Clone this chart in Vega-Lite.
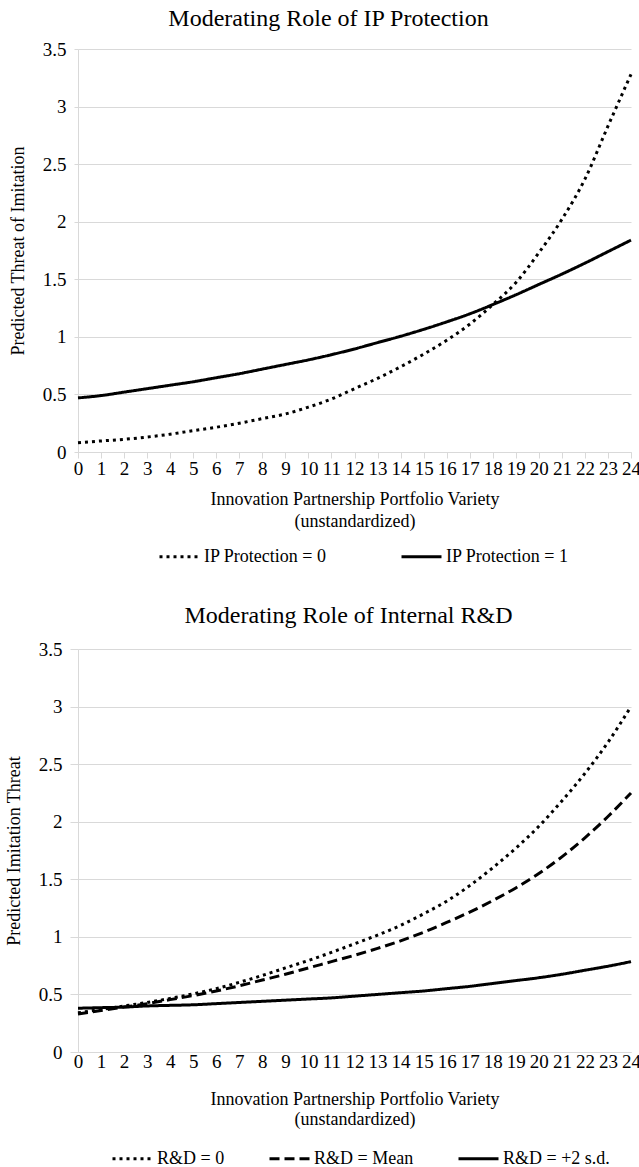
{
  "$schema": "https://vega.github.io/schema/vega-lite/v6.json",
  "padding": {"left": 5, "top": 7, "right": 8, "bottom": 0},
  "background": "white",
  "resolve": {"scale": {"strokeDash": "independent"}, "legend": {"strokeDash": "independent"}},
  "config": {
    "font": "Liberation Serif, Times New Roman, serif",
    "view": {"stroke": null},
    "axis": {
      "labelFont": "Liberation Serif, Times New Roman, serif",
      "titleFont": "Liberation Serif, Times New Roman, serif",
      "labelColor": "#000000",
      "titleColor": "#000000",
      "titleFontWeight": "normal",
      "gridColor": "#d9d9d9",
      "domainColor": "#d9d9d9",
      "tickColor": "#d9d9d9",
      "labelFontSize": 19,
      "titleFontSize": 18
    },
    "legend": {
      "labelFont": "Liberation Serif, Times New Roman, serif",
      "labelFontSize": 18,
      "labelColor": "#000000",
      "symbolType": "stroke",
      "symbolSize": 1600,
      "symbolStrokeWidth": 3,
      "symbolStrokeColor": "#000000",
      "labelOffset": 3,
      "padding": 0,
      "direction": "horizontal",
      "orient": "none"
    },
    "title": {"font": "Liberation Serif, Times New Roman, serif", "fontSize": 24, "fontWeight": "normal", "color": "#000000"},
    "concat": {"spacing": 38}
  },
  "datasets": {
    "ip": [
      {"series": "IP Protection = 0", "variety": 0, "threat": 0.08},
      {"series": "IP Protection = 0", "variety": 1, "threat": 0.096},
      {"series": "IP Protection = 0", "variety": 2, "threat": 0.11},
      {"series": "IP Protection = 0", "variety": 3, "threat": 0.13},
      {"series": "IP Protection = 0", "variety": 4, "threat": 0.155},
      {"series": "IP Protection = 0", "variety": 5, "threat": 0.185},
      {"series": "IP Protection = 0", "variety": 6, "threat": 0.215},
      {"series": "IP Protection = 0", "variety": 7, "threat": 0.25},
      {"series": "IP Protection = 0", "variety": 8, "threat": 0.29},
      {"series": "IP Protection = 0", "variety": 9, "threat": 0.33},
      {"series": "IP Protection = 0", "variety": 10, "threat": 0.39},
      {"series": "IP Protection = 0", "variety": 11, "threat": 0.46},
      {"series": "IP Protection = 0", "variety": 12, "threat": 0.55},
      {"series": "IP Protection = 0", "variety": 13, "threat": 0.64},
      {"series": "IP Protection = 0", "variety": 14, "threat": 0.74},
      {"series": "IP Protection = 0", "variety": 15, "threat": 0.85},
      {"series": "IP Protection = 0", "variety": 16, "threat": 0.97},
      {"series": "IP Protection = 0", "variety": 17, "threat": 1.11},
      {"series": "IP Protection = 0", "variety": 18, "threat": 1.28},
      {"series": "IP Protection = 0", "variety": 19, "threat": 1.47},
      {"series": "IP Protection = 0", "variety": 20, "threat": 1.73},
      {"series": "IP Protection = 0", "variety": 21, "threat": 2.02},
      {"series": "IP Protection = 0", "variety": 22, "threat": 2.37},
      {"series": "IP Protection = 0", "variety": 23, "threat": 2.83},
      {"series": "IP Protection = 0", "variety": 24, "threat": 3.28},
      {"series": "IP Protection = 1", "variety": 0, "threat": 0.47},
      {"series": "IP Protection = 1", "variety": 1, "threat": 0.49},
      {"series": "IP Protection = 1", "variety": 2, "threat": 0.52},
      {"series": "IP Protection = 1", "variety": 3, "threat": 0.55},
      {"series": "IP Protection = 1", "variety": 4, "threat": 0.58},
      {"series": "IP Protection = 1", "variety": 5, "threat": 0.61},
      {"series": "IP Protection = 1", "variety": 6, "threat": 0.645},
      {"series": "IP Protection = 1", "variety": 7, "threat": 0.68},
      {"series": "IP Protection = 1", "variety": 8, "threat": 0.72},
      {"series": "IP Protection = 1", "variety": 9, "threat": 0.76},
      {"series": "IP Protection = 1", "variety": 10, "threat": 0.8},
      {"series": "IP Protection = 1", "variety": 11, "threat": 0.845},
      {"series": "IP Protection = 1", "variety": 12, "threat": 0.895},
      {"series": "IP Protection = 1", "variety": 13, "threat": 0.95},
      {"series": "IP Protection = 1", "variety": 14, "threat": 1.005},
      {"series": "IP Protection = 1", "variety": 15, "threat": 1.065},
      {"series": "IP Protection = 1", "variety": 16, "threat": 1.13},
      {"series": "IP Protection = 1", "variety": 17, "threat": 1.2},
      {"series": "IP Protection = 1", "variety": 18, "threat": 1.28},
      {"series": "IP Protection = 1", "variety": 19, "threat": 1.365},
      {"series": "IP Protection = 1", "variety": 20, "threat": 1.455},
      {"series": "IP Protection = 1", "variety": 21, "threat": 1.545},
      {"series": "IP Protection = 1", "variety": 22, "threat": 1.64},
      {"series": "IP Protection = 1", "variety": 23, "threat": 1.74},
      {"series": "IP Protection = 1", "variety": 24, "threat": 1.84}
    ],
    "rd": [
      {"series": "R&D = 0", "variety": 0, "threat": 0.34},
      {"series": "R&D = 0", "variety": 1, "threat": 0.37},
      {"series": "R&D = 0", "variety": 2, "threat": 0.4},
      {"series": "R&D = 0", "variety": 3, "threat": 0.43},
      {"series": "R&D = 0", "variety": 4, "threat": 0.465},
      {"series": "R&D = 0", "variety": 5, "threat": 0.505},
      {"series": "R&D = 0", "variety": 6, "threat": 0.55},
      {"series": "R&D = 0", "variety": 7, "threat": 0.605},
      {"series": "R&D = 0", "variety": 8, "threat": 0.665},
      {"series": "R&D = 0", "variety": 9, "threat": 0.73},
      {"series": "R&D = 0", "variety": 10, "threat": 0.795},
      {"series": "R&D = 0", "variety": 11, "threat": 0.865},
      {"series": "R&D = 0", "variety": 12, "threat": 0.94},
      {"series": "R&D = 0", "variety": 13, "threat": 1.015},
      {"series": "R&D = 0", "variety": 14, "threat": 1.1},
      {"series": "R&D = 0", "variety": 15, "threat": 1.2},
      {"series": "R&D = 0", "variety": 16, "threat": 1.31},
      {"series": "R&D = 0", "variety": 17, "threat": 1.445},
      {"series": "R&D = 0", "variety": 18, "threat": 1.6},
      {"series": "R&D = 0", "variety": 19, "threat": 1.77},
      {"series": "R&D = 0", "variety": 20, "threat": 1.96},
      {"series": "R&D = 0", "variety": 21, "threat": 2.18},
      {"series": "R&D = 0", "variety": 22, "threat": 2.42},
      {"series": "R&D = 0", "variety": 23, "threat": 2.69},
      {"series": "R&D = 0", "variety": 24, "threat": 3.0},
      {"series": "R&D = Mean", "variety": 0, "threat": 0.33},
      {"series": "R&D = Mean", "variety": 1, "threat": 0.36},
      {"series": "R&D = Mean", "variety": 2, "threat": 0.39},
      {"series": "R&D = Mean", "variety": 3, "threat": 0.42},
      {"series": "R&D = Mean", "variety": 4, "threat": 0.455},
      {"series": "R&D = Mean", "variety": 5, "threat": 0.49},
      {"series": "R&D = Mean", "variety": 6, "threat": 0.53},
      {"series": "R&D = Mean", "variety": 7, "threat": 0.575},
      {"series": "R&D = Mean", "variety": 8, "threat": 0.625},
      {"series": "R&D = Mean", "variety": 9, "threat": 0.675},
      {"series": "R&D = Mean", "variety": 10, "threat": 0.73},
      {"series": "R&D = Mean", "variety": 11, "threat": 0.785},
      {"series": "R&D = Mean", "variety": 12, "threat": 0.84},
      {"series": "R&D = Mean", "variety": 13, "threat": 0.9},
      {"series": "R&D = Mean", "variety": 14, "threat": 0.965},
      {"series": "R&D = Mean", "variety": 15, "threat": 1.04},
      {"series": "R&D = Mean", "variety": 16, "threat": 1.125},
      {"series": "R&D = Mean", "variety": 17, "threat": 1.215},
      {"series": "R&D = Mean", "variety": 18, "threat": 1.315},
      {"series": "R&D = Mean", "variety": 19, "threat": 1.425},
      {"series": "R&D = Mean", "variety": 20, "threat": 1.55},
      {"series": "R&D = Mean", "variety": 21, "threat": 1.695},
      {"series": "R&D = Mean", "variety": 22, "threat": 1.86},
      {"series": "R&D = Mean", "variety": 23, "threat": 2.045},
      {"series": "R&D = Mean", "variety": 24, "threat": 2.25},
      {"series": "R&D = +2 s.d.", "variety": 0, "threat": 0.38},
      {"series": "R&D = +2 s.d.", "variety": 1, "threat": 0.385},
      {"series": "R&D = +2 s.d.", "variety": 2, "threat": 0.39},
      {"series": "R&D = +2 s.d.", "variety": 3, "threat": 0.4},
      {"series": "R&D = +2 s.d.", "variety": 4, "threat": 0.405},
      {"series": "R&D = +2 s.d.", "variety": 5, "threat": 0.41},
      {"series": "R&D = +2 s.d.", "variety": 6, "threat": 0.42},
      {"series": "R&D = +2 s.d.", "variety": 7, "threat": 0.43},
      {"series": "R&D = +2 s.d.", "variety": 8, "threat": 0.44},
      {"series": "R&D = +2 s.d.", "variety": 9, "threat": 0.45},
      {"series": "R&D = +2 s.d.", "variety": 10, "threat": 0.46},
      {"series": "R&D = +2 s.d.", "variety": 11, "threat": 0.47},
      {"series": "R&D = +2 s.d.", "variety": 12, "threat": 0.485},
      {"series": "R&D = +2 s.d.", "variety": 13, "threat": 0.5},
      {"series": "R&D = +2 s.d.", "variety": 14, "threat": 0.515},
      {"series": "R&D = +2 s.d.", "variety": 15, "threat": 0.53},
      {"series": "R&D = +2 s.d.", "variety": 16, "threat": 0.55},
      {"series": "R&D = +2 s.d.", "variety": 17, "threat": 0.57},
      {"series": "R&D = +2 s.d.", "variety": 18, "threat": 0.595},
      {"series": "R&D = +2 s.d.", "variety": 19, "threat": 0.62},
      {"series": "R&D = +2 s.d.", "variety": 20, "threat": 0.645},
      {"series": "R&D = +2 s.d.", "variety": 21, "threat": 0.675},
      {"series": "R&D = +2 s.d.", "variety": 22, "threat": 0.71},
      {"series": "R&D = +2 s.d.", "variety": 23, "threat": 0.745},
      {"series": "R&D = +2 s.d.", "variety": 24, "threat": 0.785}
    ]
  },
  "vconcat": [
    {
      "title": {"text": "Moderating Role of IP Protection", "anchor": "middle", "frame": "group", "dx": -26, "offset": 9},
      "width": 553,
      "height": 403,
      "data": {"name": "ip"},
      "mark": {"type": "line", "color": "#000000", "strokeWidth": 3, "interpolate": "monotone"},
      "encoding": {
        "x": {
          "field": "variety", "type": "quantitative",
          "scale": {"domain": [0, 24], "nice": false, "zero": false},
          "axis": {
            "values": [0,1,2,3,4,5,6,7,8,9,10,11,12,13,14,15,16,17,18,19,20,21,22,23,24],
            "format": "d", "grid": false, "tickSize": 6, "labelPadding": 1,
            "labelFlush": false, "labelOverlap": false,
            "title": ["Innovation Partnership Portfolio Variety", "(unstandardized)"],
            "titlePadding": 12, "titleLineHeight": 22
          }
        },
        "y": {
          "field": "threat", "type": "quantitative",
          "scale": {"domain": [0, 3.5], "nice": false},
          "axis": {
            "values": [0, 0.5, 1, 1.5, 2, 2.5, 3, 3.5],
            "format": "~g", "grid": true, "tickSize": 4, "labelPadding": 8,
            "title": "Predicted Threat of Imitation", "titlePadding": 15
          }
        },
        "strokeDash": {
          "field": "series", "type": "nominal",
          "scale": {"domain": ["IP Protection = 0", "IP Protection = 1"], "range": [[3, 4], [1, 0]]},
          "legend": {"title": null, "legendX": 80, "legendY": 486, "columnPadding": 68}
        }
      }
    },
    {
      "title": {"text": "Moderating Role of Internal R&D", "anchor": "middle", "frame": "group", "dx": -6, "offset": 12},
      "width": 553,
      "height": 403,
      "data": {"name": "rd"},
      "mark": {"type": "line", "color": "#000000", "strokeWidth": 3, "interpolate": "monotone"},
      "encoding": {
        "x": {
          "field": "variety", "type": "quantitative",
          "scale": {"domain": [0, 24], "nice": false, "zero": false},
          "axis": {
            "values": [0,1,2,3,4,5,6,7,8,9,10,11,12,13,14,15,16,17,18,19,20,21,22,23,24],
            "format": "d", "grid": false, "ticks": false, "labelPadding": 0,
            "labelFlush": false, "labelOverlap": false,
            "title": ["Innovation Partnership Portfolio Variety", "(unstandardized)"],
            "titlePadding": 19, "titleLineHeight": 20
          }
        },
        "y": {
          "field": "threat", "type": "quantitative",
          "scale": {"domain": [0, 3.5], "nice": false},
          "axis": {
            "values": [0, 0.5, 1, 1.5, 2, 2.5, 3, 3.5],
            "format": "~g", "grid": true, "tickSize": 8, "labelPadding": 8,
            "title": "Predicted Imitation Threat", "titlePadding": 15
          }
        },
        "strokeDash": {
          "field": "series", "type": "nominal",
          "scale": {"domain": ["R&D = 0", "R&D = Mean", "R&D = +2 s.d."], "range": [[3, 4], [10, 5], [1, 0]]},
          "legend": {"title": null, "legendX": 33, "legendY": 488, "columnPadding": 38}
        }
      }
    }
  ]
}
